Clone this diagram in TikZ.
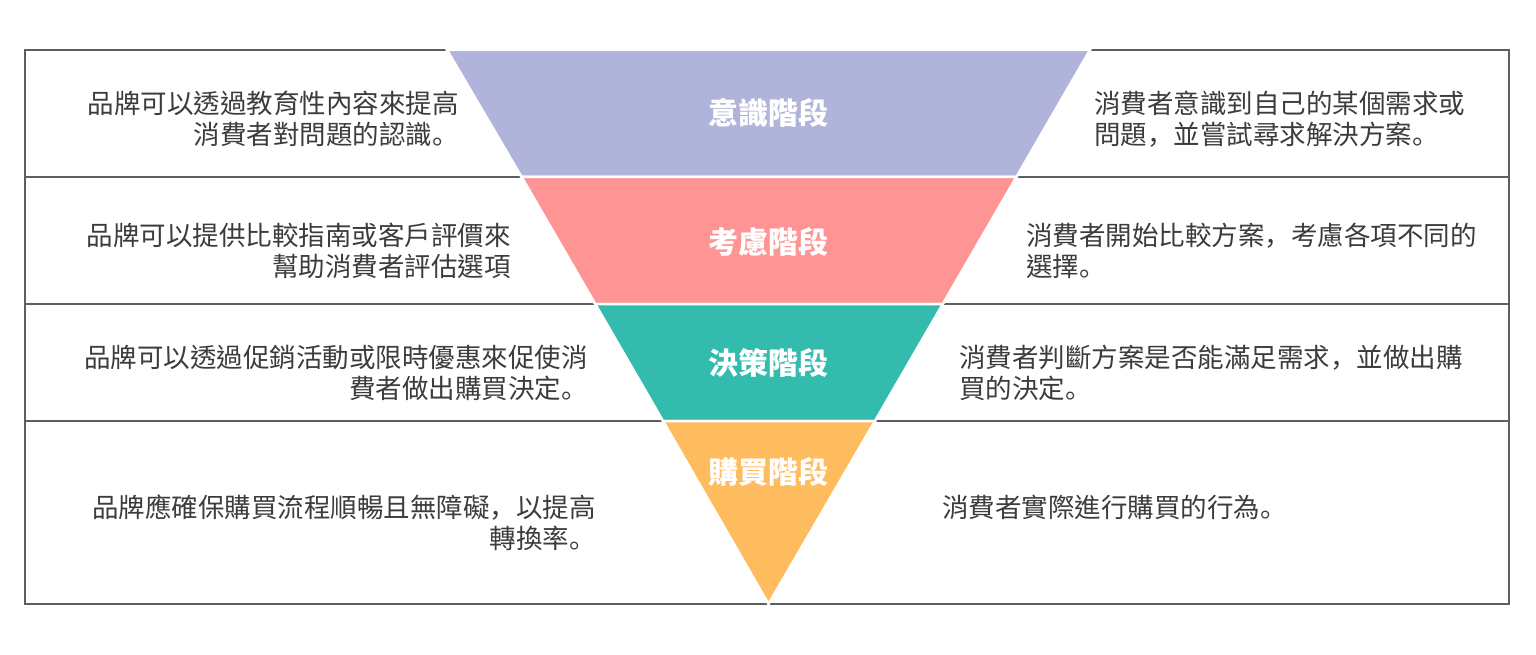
\documentclass[tikz,border=0pt]{standalone}
\usepackage{fontspec}
\setmainfont{Noto Sans CJK TC}
\newfontfamily\pnfont{Noto Sans CJK SC}
\newcommand{\pd}{{\pnfont 。}}
\newcommand{\cm}{{\pnfont ，}}
\definecolor{gridc}{HTML}{5E5E5E}
\definecolor{txtc}{HTML}{3C3C3C}
\definecolor{cA}{HTML}{B0B3DA}
\definecolor{cB}{HTML}{FF9494}
\definecolor{cC}{HTML}{33BCAE}
\definecolor{cD}{HTML}{FFBC5E}
\begin{document}
\begin{tikzpicture}[x=1pt,y=-1pt,
  gridline/.style={draw=gridc, line width=1.5pt},
  band/.style={draw=white, line width=2.5pt, line join=miter},
  desc/.style={text=txtc, font=\fontsize{26.5}{31}\selectfont, inner sep=0pt},
  stagelab/.style={text=white, font=\fontsize{30}{36}\selectfont\bfseries, inner sep=0pt}]
\useasboundingbox (0,0) rectangle (1536,655);
\fill[white] (0,0) rectangle (1536,655);
% grid
\draw[gridline] (25,50) rectangle (1509,604);
\draw[gridline] (25,177) -- (1509,177);
\draw[gridline] (25,304) -- (1509,304);
\draw[gridline] (25,421) -- (1509,421);
% funnel bands
\filldraw[band, fill=cA] (447,50) -- (1090,50) -- (1016.4,177) -- (521.6,177) -- cycle;
\filldraw[band, fill=cB] (521.6,177) -- (1016.4,177) -- (942.8,304) -- (595.2,304) -- cycle;
\filldraw[band, fill=cC] (595.2,304) -- (942.8,304) -- (875,421) -- (663,421) -- cycle;
\filldraw[band, fill=cD] (663,421) -- (875,421) -- (768.5,604) -- cycle;
% stage labels
\node[stagelab] (s1) at (768,113) {意識階段};
\node[stagelab] (s2) at (768,242) {考慮階段};
\node[stagelab] (s3) at (768,363) {決策階段};
\node[stagelab] (s4) at (768,472) {購買階段};
% left descriptions
\node[desc, align=right, anchor=east] (l1) at (459,119) {品牌可以透過教育性內容來提高\\消費者對問題的認識\pd};
\node[desc, align=right, anchor=east] (l2) at (511,251) {品牌可以提供比較指南或客戶評價來\\幫助消費者評估選項};
\node[desc, align=right, anchor=east] (l3) at (588,373) {品牌可以透過促銷活動或限時優惠來促使消\\費者做出購買決定\pd};
\node[desc, align=right, anchor=east] (l4) at (596,523) {品牌應確保購買流程順暢且無障礙\cm 以提高\\轉換率\pd};
% right descriptions
\node[desc, align=left, anchor=west] (r1) at (1094,119) {消費者意識到自己的某個需求或\\問題\cm 並嘗試尋求解決方案\pd};
\node[desc, align=left, anchor=west] (r2) at (1026,251) {消費者開始比較方案\cm 考慮各項不同的\\選擇\pd};
\node[desc, align=left, anchor=west] (r3) at (959,373) {消費者判斷方案是否能滿足需求\cm 並做出購\\買的決定\pd};
\node[desc, align=left, anchor=west] (r4) at (942,507) {消費者實際進行購買的行為\pd};
\end{tikzpicture}
\end{document}
